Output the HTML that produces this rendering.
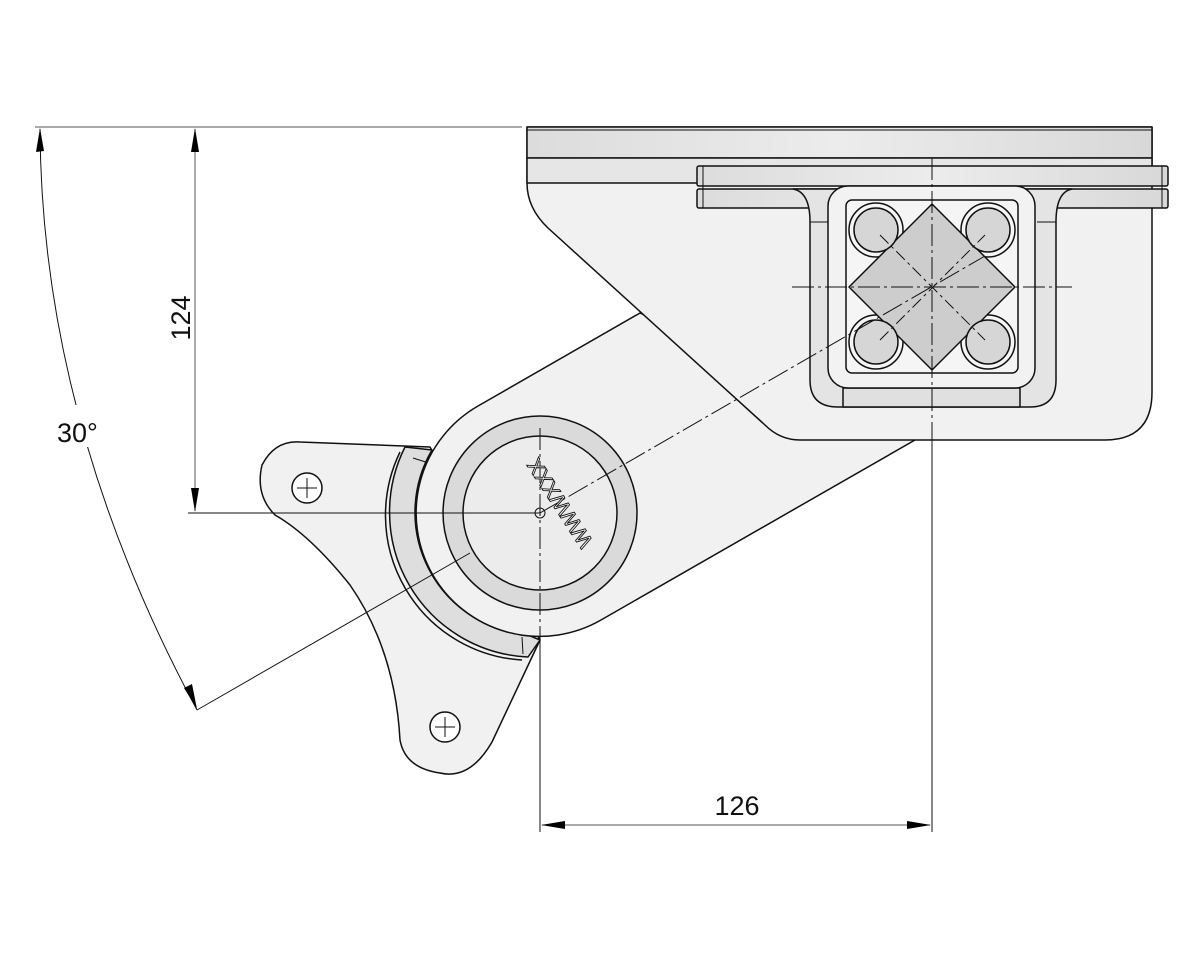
<!DOCTYPE html>
<html><head><meta charset="utf-8"><style>html,body{margin:0;padding:0;background:#fff}svg{display:block}</style></head>
<body>
<svg width="1200" height="960" viewBox="0 0 1200 960" xmlns="http://www.w3.org/2000/svg" font-family="Liberation Sans, sans-serif">
<defs>
<linearGradient id="g1" x1="0" x2="1"><stop offset="0" stop-color="#dcdcdc"/><stop offset="0.5" stop-color="#ececec"/><stop offset="1" stop-color="#d8d8d8"/></linearGradient>
</defs>
<g stroke="#111" stroke-width="1.5" fill="#f1f1f1" stroke-linejoin="round">
<path d="M300,442 L430,447 L540,640 L492,742 Q470,780 440,773 Q405,768 400,740 Q395,650 350,585 Q310,535 275,515 Q255,495 262,465 Q275,440 300,442Z"/>
<path d="M405,447 L432,450 A123,123 0 0,0 528,635 L540,640 L528,657 A145,145 0 0,1 405,447Z" fill="#dedede"/>
<path d="M400,452 A145,145 0 0,0 522,660" fill="none"/>
<line x1="413" y1="458" x2="432" y2="464" stroke-width="1"/>
<line x1="522" y1="637" x2="523" y2="654" stroke-width="1"/>
<path d="M478,406 L640,313 L915,440 L601,620 A123,123 0 0,1 478,406Z"/>
<path d="M527,127 L1152,127 L1152,392 Q1152,440 1105,440 L800,440 Q780,440 765,425 L548,228 Q527,208 527,183Z"/>
<rect x="527" y="127" width="625" height="31" fill="url(#g1)"/>
<rect x="527" y="158" width="625" height="25" fill="#e6e6e6"/>
<line x1="527" y1="130" x2="1152" y2="130" stroke-width="1"/>
<rect x="697" y="166" width="471" height="20" rx="2" fill="url(#g1)"/>
<rect x="697" y="189" width="471" height="19" rx="2" fill="url(#g1)"/>
<line x1="703" y1="166" x2="703" y2="208" stroke-width="1"/>
<line x1="1162" y1="166" x2="1162" y2="208" stroke-width="1"/>
<path d="M793,189 Q810,192 810,222 L810,380 Q810,407 838,407 L1030,407 Q1056,407 1056,380 L1056,222 Q1056,192 1072,189 Z" fill="#e4e4e4"/>
<path d="M810,222 L828,222 M1037,222 L1056,222" fill="none" stroke-width="1"/>
<rect x="843" y="388" width="177" height="19" fill="#e0e0e0"/>
<rect x="828" y="186" width="207" height="202" rx="20" fill="#f2f2f2"/>
<rect x="846" y="200" width="172" height="173" rx="6" fill="#f5f5f5"/>
<g fill="#f5f5f5"><circle cx="876" cy="230" r="27"/><circle cx="988" cy="230" r="27"/><circle cx="876" cy="342" r="27"/><circle cx="988" cy="342" r="27"/></g>
<path d="M932,204 L1015,287 L932,370 L849,287Z" fill="#cdcdcd"/>
<g fill="#d6d6d6"><circle cx="876" cy="230" r="22"/><circle cx="988" cy="230" r="22"/><circle cx="876" cy="342" r="22"/><circle cx="988" cy="342" r="22"/></g>
<circle cx="540" cy="513" r="97" fill="#dadada"/>
<circle cx="540" cy="513" r="77" fill="#ececec"/>
<circle cx="540" cy="513" r="5" fill="none" stroke-width="1"/>
<circle cx="307" cy="488" r="15" fill="#fff"/>
<circle cx="445" cy="727" r="15" fill="#fff"/>
</g>
<g stroke="#111" stroke-width="1" fill="none">
<path d="M297,488 H317 M307,478 V498 M435,727 H455 M445,717 V737"/>
<path d="M540,428 V640 M932,158 V450" stroke-dasharray="22,4,3,4"/>
<path d="M792,287 H1072" stroke-dasharray="22,4,3,4"/>
<path d="M540,513 L985,256" stroke-dasharray="22,4,3,4"/>
<path d="M197,710 L470,553"/>
<path d="M880,235 L985,340 M880,340 L985,235" stroke-dasharray="12,4,3,4"/>
<line x1="35" y1="127" x2="522" y2="127" stroke="#555"/>
<line x1="188" y1="513" x2="540" y2="513"/>
<line x1="195" y1="129" x2="195" y2="511" stroke="#555"/>
<line x1="540" y1="640" x2="540" y2="832"/>
<line x1="932" y1="440" x2="932" y2="832"/>
<line x1="542" y1="825" x2="930" y2="825" stroke="#555"/>
<path d="M40,129 Q41.5,421 197,710"/>
</g>
<g fill="#000">
<path d="M195,128 L191,152 L199,152Z"/>
<path d="M195,512 L191,488 L199,488Z"/>
<path d="M541,825 L565,821 L565,829Z"/>
<path d="M931,825 L907,821 L907,829Z"/>
<path d="M40,128 L36,152 L44,151Z"/>
<path d="M197,709 L184,688 L192,684Z"/>
</g>
<rect x="52" y="405" width="60" height="42" fill="#fff"/>
<text x="57" y="442" font-size="27" fill="#111">30°</text>
<text x="190" y="318" font-size="27" fill="#111" text-anchor="middle" transform="rotate(-90 190 318)">124</text>
<text x="737" y="815" font-size="27" fill="#111" text-anchor="middle">126</text>
<text x="0" y="7" font-size="21" fill="#fff" stroke="#111" stroke-width="0.9" text-anchor="middle" transform="translate(560,503) rotate(57) scale(1,-1)">XXXWWW</text>
</svg>
</body></html>
